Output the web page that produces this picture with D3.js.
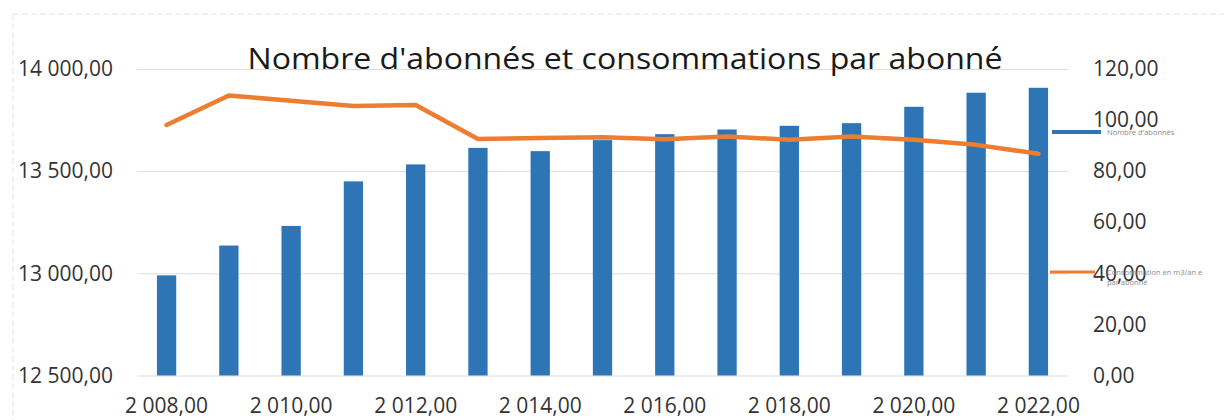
<!DOCTYPE html>
<html>
<head>
<meta charset="utf-8">
<script src="https://cdn.jsdelivr.net/npm/d3@7"></script>
<style>
  html, body { margin: 0; padding: 0; background: #fff; }
  svg { display: block; font-family: "Open Sans", "DejaVu Sans", sans-serif; }
</style>
</head>
<body>
<svg id="chart" width="1224" height="420"></svg>
<script>
const years = [2008, 2009, 2010, 2011, 2012, 2013, 2014, 2015, 2016, 2017, 2018, 2019, 2020, 2021, 2022];
const abonnes = [12990, 13136, 13232, 13450, 13533, 13614, 13598, 13652, 13681, 13704, 13722, 13735, 13815, 13884, 13908];
const consommation = [98.1, 109.6, 107.6, 105.5, 105.9, 92.6, 93.0, 93.3, 92.5, 93.6, 92.3, 93.6, 92.3, 90.3, 86.8];
const leftTicks = [12500, 13000, 13500, 14000];
const rightTicks = [0, 20, 40, 60, 80, 100, 120];
const xTickYears = [2008, 2010, 2012, 2014, 2016, 2018, 2020, 2022];
const title = "Nombre d'abonnés et consommations par abonné";
const seriesNames = ["Nombre d'abonnés", "Consommation en m3/an e", "par abonné"];

const fr = d3.formatLocale({ decimal: ",", thousands: " ", grouping: [3], currency: ["", " €"] });
const fmt = fr.format(",.2f");

const svg = d3.select("#chart");
const textColor = "#333333";
const barColor = "#2e75b6";
const lineColor = "#ed7d31";

// frame (light dashed border of the chart area)
svg.append("line").attr("x1", 13).attr("x2", 1224).attr("y1", 14).attr("y2", 14)
  .attr("stroke", "#e3e3e3").attr("stroke-dasharray", "6,3");
svg.append("line").attr("x1", 13).attr("x2", 13).attr("y1", 14).attr("y2", 420)
  .attr("stroke", "#e3e3e3").attr("stroke-dasharray", "6,3");

const x = d3.scaleBand().domain(years).range([137, 1068]).paddingInner(0.69).paddingOuter(0.32);
const yL = d3.scaleLinear().domain([12500, 14000]).range([375.5, 69]);
const yR = d3.scaleLinear().domain([0, 120]).range([375.5, 69]);

// gridlines
svg.append("g").selectAll("line").data(leftTicks).join("line")
  .attr("x1", 137).attr("x2", 1068)
  .attr("y1", d => yL(d) + 0.5).attr("y2", d => yL(d) + 0.5)
  .attr("stroke", "#dcdcdc").attr("stroke-width", 1);

// bars
svg.append("g").selectAll("rect").data(years).join("rect")
  .attr("x", d => x(d))
  .attr("width", x.bandwidth())
  .attr("y", (d, i) => yL(abonnes[i]))
  .attr("height", (d, i) => yL(12500) - yL(abonnes[i]))
  .attr("fill", barColor);

// line
const line = d3.line()
  .x((d, i) => x(years[i]) + x.bandwidth() / 2)
  .y(d => yR(d));
svg.append("path").datum(consommation)
  .attr("d", line)
  .attr("fill", "none")
  .attr("stroke", lineColor)
  .attr("stroke-width", 4.5)
  .attr("stroke-linejoin", "round")
  .attr("stroke-linecap", "round");

// left axis
const axL = d3.axisLeft(yL).tickValues(leftTicks).tickFormat(fmt).tickSize(0).tickPadding(0);
const gL = svg.append("g").attr("transform", "translate(113,0)").call(axL);
gL.select(".domain").remove();
gL.selectAll("text").attr("fill", textColor).attr("font-size", 21).attr("font-family", "Open Sans");

// right axis
const axR = d3.axisRight(yR).tickValues(rightTicks).tickFormat(fmt).tickSize(0).tickPadding(0);
const gR = svg.append("g").attr("transform", "translate(1093,0)").call(axR);
gR.select(".domain").remove();
gR.selectAll("text").attr("fill", textColor).attr("font-size", 21).attr("font-family", "Open Sans");

// bottom axis
const axB = d3.axisBottom(x).tickValues(xTickYears).tickFormat(d => fmt(d)).tickSize(0).tickPadding(0);
const gB = svg.append("g").attr("transform", "translate(0,398)").call(axB);
gB.select(".domain").remove();
gB.selectAll("text").attr("fill", textColor).attr("font-size", 21).attr("font-family", "Open Sans");

// title
svg.append("text")
  .attr("x", 625).attr("y", 69)
  .attr("text-anchor", "middle")
  .attr("font-size", 29)
  .attr("textLength", 755)
  .attr("lengthAdjust", "spacingAndGlyphs")
  .attr("fill", "#1a1a1a")
  .text(title);

// legend
const lg = svg.append("g");
lg.append("line").attr("x1", 1052).attr("x2", 1101).attr("y1", 132).attr("y2", 132)
  .attr("stroke", barColor).attr("stroke-width", 4);
lg.append("text").attr("x", 1107).attr("y", 134.5).attr("font-size", 7.5).attr("fill", "#8a8a8a")
  .text(seriesNames[0]);
lg.append("line").attr("x1", 1050).attr("x2", 1095).attr("y1", 272).attr("y2", 272)
  .attr("stroke", lineColor).attr("stroke-width", 3);
lg.append("text").attr("x", 1107).attr("y", 274.5).attr("font-size", 7.5).attr("fill", "#8a8a8a")
  .text(seriesNames[1]);
lg.append("text").attr("x", 1107).attr("y", 285).attr("font-size", 7.5).attr("fill", "#8a8a8a")
  .text(seriesNames[2]);
</script>
</body>
</html>
